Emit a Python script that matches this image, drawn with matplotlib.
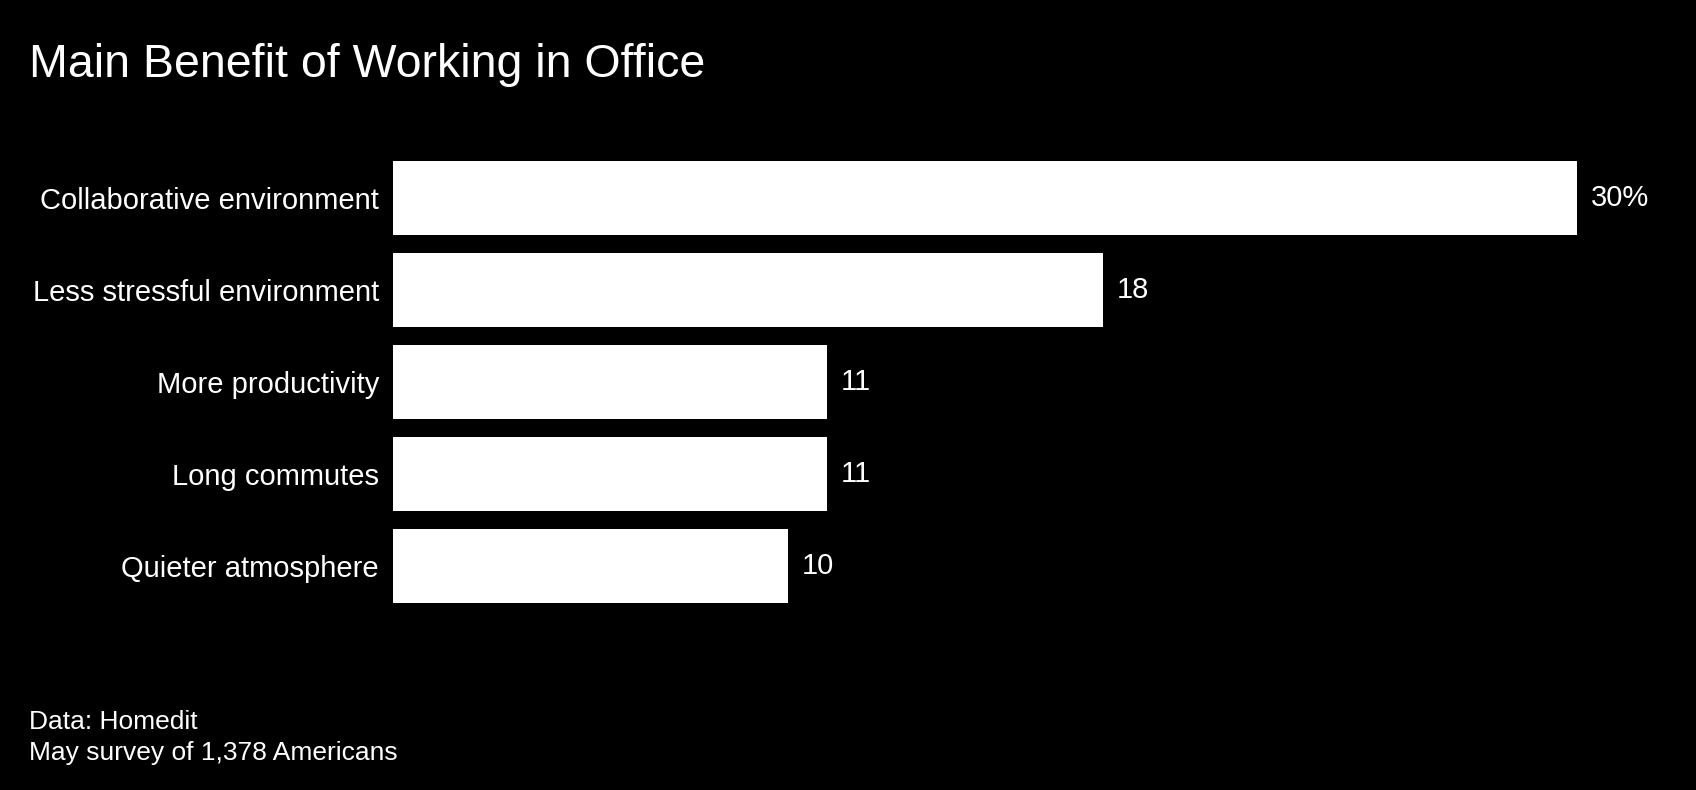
import matplotlib.pyplot as plt

plt.rcParams['font.family'] = ['Liberation Sans', 'DejaVu Sans']

# Data
categories = ['Collaborative environment', 'Less stressful environment',
              'More productivity', 'Long commutes', 'Quieter atmosphere']
values = [30, 18, 11, 11, 10]
value_labels = ['30%', '18', '11', '11', '10']

fig = plt.figure(figsize=(16.96, 7.9), dpi=100, facecolor='black')
ax = fig.add_axes([0.2317, 0.2367, 0.6981, 0.5595])
ax.set_facecolor('black')

ypos = range(len(categories))
ax.barh(ypos, values, height=0.8, color='white')
ax.set_xlim(0, 30)
ax.set_ylim(len(categories) - 0.6, -0.4)

ax.set_yticks(list(ypos))
ax.set_yticklabels(categories, color='white', fontsize=21)
ax.tick_params(axis='y', length=0, pad=10)
ax.set_xticks([])
for s in ax.spines.values():
    s.set_visible(False)

for y, v, lab in zip(ypos, values, value_labels):
    ax.annotate(lab, (v, y), xytext=(10, 0), textcoords='offset points',
                ha='left', va='center', color='white', fontsize=21)

fig.text(29 / 1696, 1 - 77 / 790, 'Main Benefit of Working in Office',
         color='white', fontsize=33.5, ha='left', va='baseline')
fig.text(29 / 1696, 1 - 729 / 790, 'Data: Homedit', color='white',
         fontsize=19, ha='left', va='baseline')
fig.text(29 / 1696, 1 - 760 / 790, 'May survey of 1,378 Americans', color='white',
         fontsize=19, ha='left', va='baseline')

fig.savefig('out.png', dpi=100, facecolor='black')
